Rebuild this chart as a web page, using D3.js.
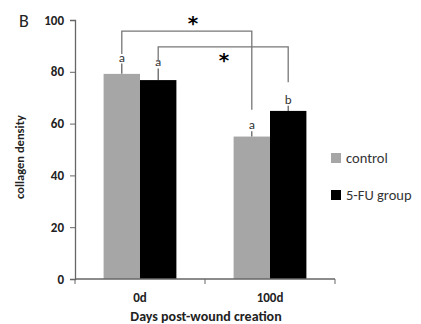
<!DOCTYPE html>
<html>
<head>
<meta charset="utf-8">
<script src="https://cdn.jsdelivr.net/npm/d3@7"></script>
<style>
  body { margin: 0; background: #fff; }
  svg { font-family: Calibri, Carlito, "Open Sans", sans-serif; }
</style>
</head>
<body>
<div id="chart"></div>
<script>
// collagen density by day and group
const days = ["0d", "100d"];
const groups = ["control", "5-FU group"];
const controlVals = [79.2, 55];
const fuVals = [76.8, 64.9];
const controlErr = [4, 2];
const fuErr = [4.5, 2];
const controlLetters = ["a", "a"];
const fuLetters = ["a", "b"];
const yTicks = [0, 20, 40, 60, 80, 100];
// significance brackets: [day, group] -> [day, group], top level, leg ends
const brackets = [
  {from: [0, 0], to: [1, 0], top: 95.7, y1: 86.9, y2: 65.3},
  {from: [0, 1], to: [1, 1], top: 89.6, y1: 83.8, y2: 76}
];

const colors = ["#a6a6a6", "#000000"];
const W = 421, H = 324;
const margin = {top: 20, right: 86, bottom: 45, left: 75};
const width = W - margin.left - margin.right;
const height = H - margin.top - margin.bottom;

const svg = d3.select("#chart").append("svg")
    .attr("width", W)
    .attr("height", H);

const chart = svg.append("g")
    .attr("transform", "translate(" + margin.left + "," + margin.top + ")");

const x0 = d3.scaleBand().domain(days).range([0, width]).padding(0);
const x1 = d3.scaleBand().domain(groups).range([x0.bandwidth() * 0.22, x0.bandwidth() * 0.78]);
const y = d3.scaleLinear().domain([0, 100]).range([height, 0]);
const color = d3.scaleOrdinal().domain(groups).range(colors);

const rows = days.map(function(d, i) {
  return [
    {day: d, g: groups[0], v: controlVals[i], e: controlErr[i], l: controlLetters[i]},
    {day: d, g: groups[1], v: fuVals[i], e: fuErr[i], l: fuLetters[i]}
  ];
}).flat();

// bars
chart.selectAll("rect.bar")
  .data(rows)
  .enter().append("rect")
    .attr("class", "bar")
    .attr("x", function(d) { return x0(d.day) + x1(d.g); })
    .attr("width", x1.bandwidth())
    .attr("y", function(d) { return y(d.v); })
    .attr("height", function(d) { return height - y(d.v); })
    .attr("fill", function(d) { return color(d.g); });

// error bars (upper only)
chart.selectAll("line.err")
  .data(rows)
  .enter().append("line")
    .attr("class", "err")
    .attr("x1", function(d) { return x0(d.day) + x1(d.g) + x1.bandwidth() / 2; })
    .attr("x2", function(d) { return x0(d.day) + x1(d.g) + x1.bandwidth() / 2; })
    .attr("y1", function(d) { return y(d.v); })
    .attr("y2", function(d) { return y(d.v + d.e); })
    .attr("stroke", "#555")
    .attr("stroke-width", 1.2);

chart.selectAll("text.letter")
  .data(rows)
  .enter().append("text")
    .attr("class", "letter")
    .attr("x", function(d) { return x0(d.day) + x1(d.g) + x1.bandwidth() / 2; })
    .attr("y", function(d) { return y(d.v + d.e) - 2; })
    .attr("text-anchor", "middle")
    .attr("font-size", 13)
    .attr("fill", "#333")
    .text(function(d) { return d.l; });

// brackets
function bx(p) { return x0(days[p[0]]) + x1(groups[p[1]]) + x1.bandwidth() / 2; }
brackets.forEach(function(b) {
  chart.append("path")
    .attr("d", "M" + bx(b.from) + "," + y(b.y1) + "V" + y(b.top) + "H" + bx(b.to) + "V" + y(b.y2))
    .attr("fill", "none")
    .attr("stroke", "#777")
    .attr("stroke-width", 1.3);
});
chart.append("text").attr("x", 118).attr("y", 10).attr("font-size", 20).attr("font-weight", "bold")
    .style("font-family", "'DejaVu Sans', sans-serif").attr("text-anchor", "middle").text("*");
chart.append("text").attr("x", 149).attr("y", 47).attr("font-size", 20).attr("font-weight", "bold")
    .style("font-family", "'DejaVu Sans', sans-serif").attr("text-anchor", "middle").text("*");

// y axis
const yAxis = chart.append("g")
    .call(d3.axisLeft(y).tickValues(yTicks).tickSize(5).tickPadding(6));
yAxis.select(".domain").attr("stroke", "#666").attr("stroke-width", 1.3);
yAxis.selectAll(".tick line").attr("stroke", "#666");
yAxis.selectAll(".tick text")
    .attr("font-size", 13).attr("font-weight", "bold").attr("fill", "#222")
    .style("font-family", "Calibri, Carlito, 'Open Sans', sans-serif");

// x axis: ticks between categories
const xAxis = chart.append("g").attr("transform", "translate(0," + height + ")");
xAxis.append("line").attr("x1", 0).attr("x2", width).attr("stroke", "#666").attr("stroke-width", 1.3);
xAxis.selectAll("line.xt")
  .data(d3.range(days.length + 1))
  .enter().append("line")
    .attr("class", "xt")
    .attr("x1", function(i) { return i * x0.step(); })
    .attr("x2", function(i) { return i * x0.step(); })
    .attr("y1", 0).attr("y2", 5)
    .attr("stroke", "#666");
xAxis.selectAll("text")
  .data(days)
  .enter().append("text")
    .attr("x", function(d) { return x0(d) + x0.bandwidth() / 2; })
    .attr("y", 23)
    .attr("text-anchor", "middle")
    .attr("font-size", 13).attr("font-weight", "bold").attr("fill", "#222")
    .text(function(d) { return d; });

chart.append("text")
    .attr("x", 131)
    .attr("y", height + 42)
    .attr("text-anchor", "middle")
    .attr("font-size", 14).attr("font-weight", "bold").attr("fill", "#222")
    .text("Days post-wound creation");

chart.append("text")
    .attr("transform", "rotate(-90)")
    .attr("x", -137)
    .attr("y", -51)
    .attr("text-anchor", "middle")
    .attr("font-size", 12.5).attr("font-weight", "bold").attr("fill", "#222")
    .text("collagen density");

svg.append("text")
    .attr("x", 24).attr("y", 27)
    .attr("text-anchor", "middle")
    .attr("font-size", 18).attr("fill", "#222")
    .text("B");

// legend
const legend = svg.append("g")
  .selectAll("g")
  .data(groups)
  .enter().append("g")
    .attr("transform", function(d, i) { return "translate(331," + (153 + i * 37) + ")"; });
legend.append("rect")
    .attr("width", 10).attr("height", 10)
    .attr("fill", color);
legend.append("text")
    .attr("x", 15).attr("y", 10)
    .attr("font-size", 14.5).attr("fill", "#333")
    .text(function(d) { return d; });
</script>
</body>
</html>
